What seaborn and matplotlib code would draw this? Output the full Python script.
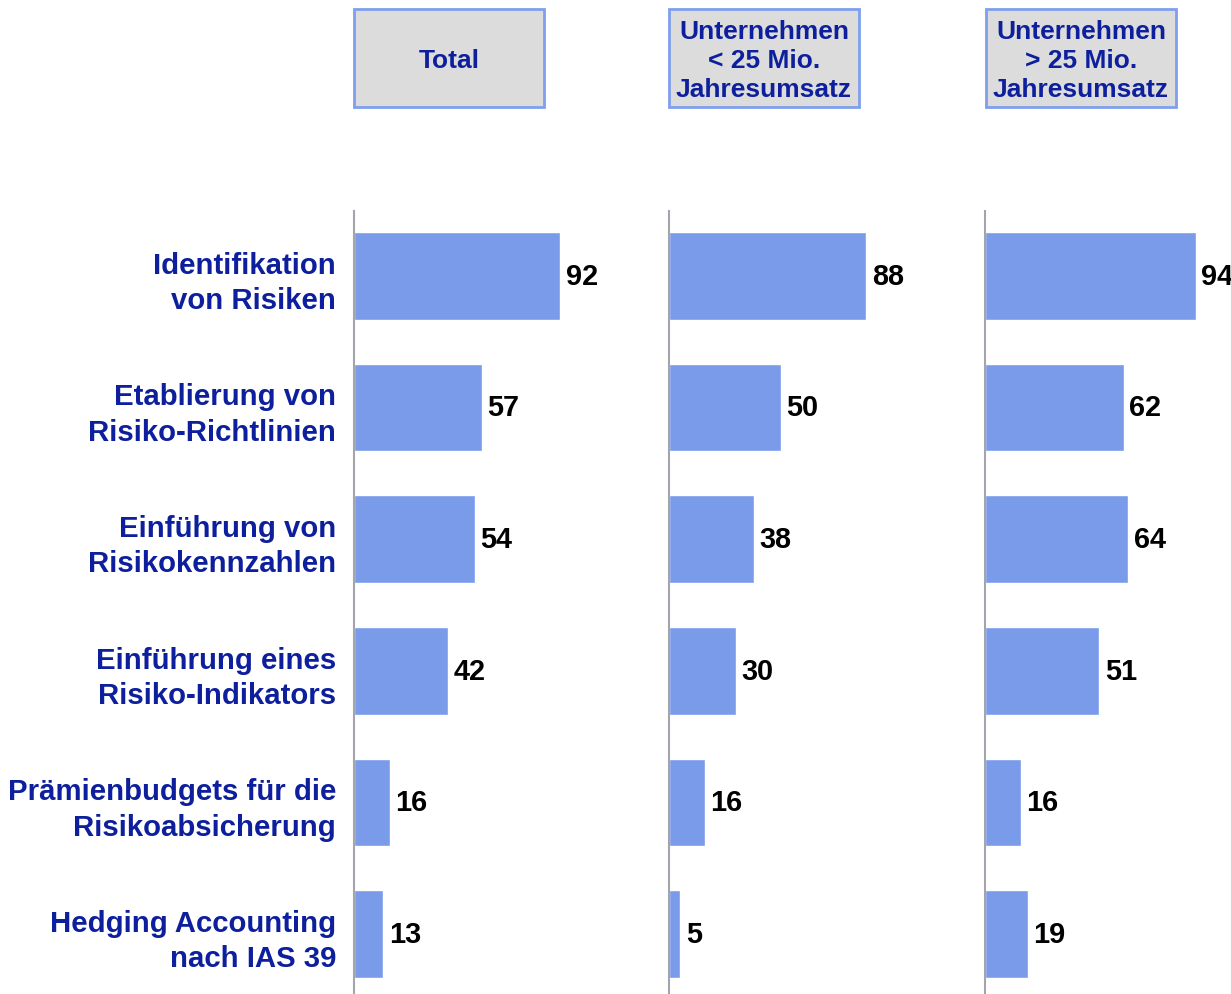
import matplotlib
matplotlib.use("Agg")
import matplotlib.pyplot as plt
import pandas as pd
import seaborn as sns
from matplotlib.patches import Rectangle

sns.set_theme(style="white")
plt.rcParams["font.family"] = ["Liberation Sans", "DejaVu Sans"]

categories = [
    "Identifikation\nvon Risiken",
    "Etablierung von\nRisiko-Richtlinien",
    "Einführung von\nRisikokennzahlen",
    "Einführung eines\nRisiko-Indikators",
    "Prämienbudgets für die\nRisikoabsicherung",
    "Hedging Accounting\nnach IAS 39",
]
groups = [
    "Total",
    "Unternehmen\n< 25 Mio.\nJahresumsatz",
    "Unternehmen\n> 25 Mio.\nJahresumsatz",
]
total = [92, 57, 54, 42, 16, 13]
small = [88, 50, 38, 30, 16, 5]
large = [94, 62, 64, 51, 16, 19]

BAR = "#799BEA"
EDGE = "#7F9FEE"
BOX = "#DCDCDC"
NAVY = "#0D1F9C"
AXIS = "#A4A4AC"

W, H = 1231, 995
fig = plt.figure(figsize=(W / 100, H / 100), dpi=100)

lefts = [354, 669, 985]
box_x = [354, 669, 986]
top_px, bottom_px = 212, 995
px_per_unit = 2.24

for i, (vals, name) in enumerate(zip([total, small, large], groups)):
    ax = fig.add_axes([
        lefts[i] / W,
        1 - bottom_px / H,
        100 * px_per_unit / W,
        (bottom_px - top_px) / H,
    ])
    df = pd.DataFrame({"cat": categories, "val": vals})
    sns.barplot(data=df, x="val", y="cat", color=BAR, width=0.667,
                saturation=1, ax=ax, orient="h")
    ax.set_xlim(0, 100)
    ax.set_ylim(5.4545, -0.492)
    for bars in ax.containers:
        ax.bar_label(bars, padding=4, fontsize=20.8, fontweight="bold",
                     color="black", clip_on=False)
    for s in ["top", "right", "bottom"]:
        ax.spines[s].set_visible(False)
    ax.spines["left"].set_color(AXIS)
    ax.spines["left"].set_linewidth(1.5)
    ax.set_xticks([])
    ax.set_xlabel("")
    ax.set_ylabel("")
    ax.patch.set_alpha(0)
    if i == 0:
        ax.tick_params(axis="y", length=0, pad=13)
        for lab in ax.get_yticklabels():
            lab.set_fontsize(21.2)
            lab.set_fontweight("bold")
            lab.set_color(NAVY)
            lab.set_horizontalalignment("right")
            lab.set_multialignment("right")
            lab.set_linespacing(1.33)
    else:
        ax.set_yticks([])

    # header box
    bx, by, bw, bh = box_x[i], 10, 190, 98
    fig.patches.append(Rectangle((bx / W, 1 - (by + bh) / H), bw / W, bh / H,
                                 transform=fig.transFigure, facecolor=BOX,
                                 edgecolor=EDGE, linewidth=2.0))
    fig.text((bx + bw / 2) / W, 1 - (by + bh / 2 + 2) / H, name,
             ha="center", va="center", fontsize=19, fontweight="bold",
             color=NAVY, linespacing=1.24)

fig.savefig("out.png", dpi=100)
